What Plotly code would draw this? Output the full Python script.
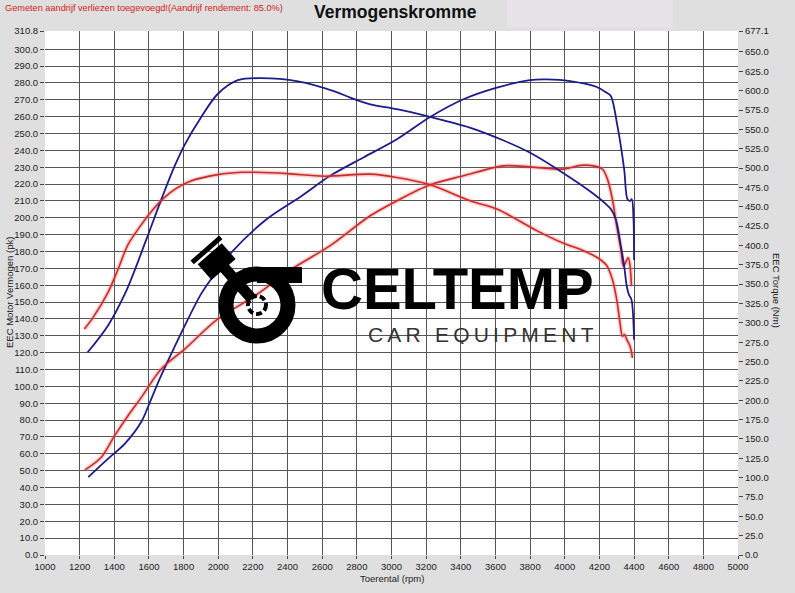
import plotly.graph_objects as go

# ---- data ----
# blue run: power (pk, left axis) and torque (Nm, right axis)
blue_pk_rpm = [1250, 1363, 1460, 1556, 1607, 1660, 1700, 1797, 1896, 1954, 2075, 2277,
               2479, 2646, 2838, 3031, 3223, 3415, 3608, 3800, 3896, 4031, 4185, 4242,
               4266, 4304, 4343, 4362, 4377, 4387, 4397, 4400]
blue_pk = [46.2, 57.0, 65.9, 79.0, 91.0, 104.0, 113.0, 134.0, 154.0, 163.0, 179.3, 199.0,
           212.8, 224.9, 235.8, 246.6, 259.8, 270.3, 277.2, 281.7, 282.1, 281.1, 277.6, 274.2,
           272.3, 254.5, 228.8, 211.0, 210.0, 211.0, 199.0, 175.0]

blue_nm_rpm = [1245, 1363, 1469, 1585, 1671, 1748, 1806, 1902, 1998, 2113, 2248, 2460,
               2671, 2762, 2877, 3031, 3223, 3452, 3644, 3798, 3986, 4142, 4238, 4266,
               4295, 4324, 4343, 4358, 4370, 4385, 4400]
blue_nm = [261.6, 296.3, 341.2, 407.8, 459.2, 502.4, 530.0, 566.0, 596.0, 613.5, 616.1, 612.0,
           599.1, 591.0, 582.3, 576.0, 566.0, 552.3, 535.9, 520.0, 494.3, 470.6, 453.4, 447.0,
           433.5, 399.1, 373.2, 347.3, 336.6, 330.0, 278.2]

# red run
red_pk_rpm = [1231, 1325, 1402, 1479, 1556, 1671, 1806, 1998, 2210, 2421, 2646, 2877,
              3031, 3223, 3415, 3646, 3800, 3993, 4092, 4166, 4218, 4247, 4275, 4300,
              4324, 4339, 4366, 4377, 4385]
red_pk = [50.5, 58.0, 70.8, 82.6, 93.5, 110.3, 122.1, 140.0, 153.6, 169.4, 183.5, 201.2,
          210.1, 219.6, 224.9, 230.8, 230.2, 228.9, 231.1, 230.8, 228.8, 222.8, 211.0, 195.0,
          181.2, 171.3, 176.3, 171.3, 159.4]

red_nm_rpm = [1227, 1277, 1363, 1421, 1479, 1550, 1607, 1690, 1760, 1838, 1998, 2133,
              2210, 2402, 2613, 2877, 3031, 3223, 3454, 3608, 3838, 3993, 4092, 4185,
              4242, 4275, 4300, 4319, 4333, 4345, 4358, 4377, 4391]
red_nm = [291.9, 306.7, 339.0, 369.0, 401.0, 425.0, 442.0, 462.0, 474.0, 483.0, 491.5, 494.5,
          494.5, 492.8, 489.5, 492.1, 487.8, 478.4, 457.7, 447.0, 419.2, 402.8, 394.8, 384.7,
          374.1, 356.0, 330.0, 300.0, 282.6, 284.8, 278.2, 269.7, 254.7]

pk_ticks = [i * 10.0 for i in range(31)] + [310.8]
nm_ticks = [i * 25.0 for i in range(27)] + [677.1]
rpm_ticks = list(range(1000, 5001, 200))

BLUE = "#1c1c8a"
RED = "#cc2a2a"
W, H = 795, 593
L, R, T, B = 45, 57, 31, 38
SMOOTH = 0.9


def px(x, y):
    # pixel -> paper coords, only used for the logo / header decoration
    return (x - L) / (W - L - R), (H - B - y) / (H - T - B)


fig = go.Figure()

# red halo underneath the red curves
for xs, ys, ax in [(red_pk_rpm, red_pk, "y"), (red_nm_rpm, red_nm, "y2")]:
    fig.add_trace(go.Scatter(x=xs, y=ys, yaxis=ax, mode="lines",
                             line=dict(color="rgba(235,120,120,0.35)", width=4.5,
                                       shape="spline", smoothing=SMOOTH),
                             hoverinfo="skip", showlegend=False))

fig.add_trace(go.Scatter(x=blue_pk_rpm, y=blue_pk, mode="lines", name="Vermogen 1",
                         line=dict(color=BLUE, width=1.8, shape="spline", smoothing=SMOOTH)))
fig.add_trace(go.Scatter(x=blue_nm_rpm, y=blue_nm, yaxis="y2", mode="lines", name="Koppel 1",
                         line=dict(color=BLUE, width=1.8, shape="spline", smoothing=SMOOTH)))
fig.add_trace(go.Scatter(x=red_pk_rpm, y=red_pk, mode="lines", name="Vermogen 2",
                         line=dict(color=RED, width=1.6, shape="spline", smoothing=SMOOTH)))
fig.add_trace(go.Scatter(x=red_nm_rpm, y=red_nm, yaxis="y2", mode="lines", name="Koppel 2",
                         line=dict(color=RED, width=1.6, shape="spline", smoothing=SMOOTH)))

tickfont = dict(family="Liberation Sans, Arial, sans-serif", size=9.5, color="#222")

fig.update_layout(
    width=W, height=H,
    margin=dict(l=L, r=R, t=T, b=B, autoexpand=False),
    paper_bgcolor="#dfdfdf",
    plot_bgcolor="white",
    showlegend=False,
    font=dict(family="Liberation Sans, Arial, sans-serif", size=10, color="#222"),
    xaxis=dict(range=[1000, 5000], tickvals=rpm_ticks, ticks="outside", ticklen=3,
               tickcolor="#444", showgrid=True, gridcolor="#555", gridwidth=0.8,
               zeroline=False, showline=False, tickfont=tickfont, automargin=False),
    yaxis=dict(range=[0, 310.8], tickvals=pk_ticks, ticktext=[f"{v:.1f}" for v in pk_ticks],
               ticks="outside", ticklen=4, tickcolor="#444", showgrid=True,
               gridcolor="#555", gridwidth=0.8, zeroline=False, showline=False,
               tickfont=tickfont, automargin=False),
    yaxis2=dict(range=[0, 677.1], overlaying="y", side="right", tickvals=nm_ticks,
                ticktext=[f"{v:.1f}" for v in nm_ticks], ticks="outside", ticklen=4,
                tickcolor="#444", showgrid=False, zeroline=False, showline=False,
                tickfont=tickfont, automargin=False),
)


def note(x, y, text, size, color="#222", angle=0, anchor="center", family=None, h=None):
    ax_, ay_ = px(x, y)
    f = dict(size=size, color=color)
    if family:
        f["family"] = family
    fig.add_annotation(xref="paper", yref="paper", x=ax_, y=ay_, xanchor=anchor,
                       yanchor="middle", text=text, textangle=angle, showarrow=False,
                       font=f, height=h)


# header: lighter box, warning text and title
bx0, by0 = px(507, 27)
bx1, by1 = px(673, 0)
fig.add_shape(type="rect", xref="paper", yref="paper", x0=bx0, y0=by0, x1=bx1, y1=by1,
              fillcolor="#e6e4e7", line_width=0, layer="below")
note(3, 8, "Gemeten aandrijf verliezen toegevoegd!(Aandrijf rendement: 85.0%)", 9.2,
     color="#d42020", anchor="left")
note(396, 12, "<b>Vermogenskromme</b>", 17.5, color="#111")

# axis titles
note(392, 578, "Toerental (rpm)", 9.5)
note(9, 293, "EEC Motor Vermogen (pk)", 9.5, angle=-90)
note(777, 290, "EEC Torque (Nm)", 9.5, angle=90)

# ---- CELTEMP watermark ----
cx, cy, rr = 257, 305, 31
x0, y0 = px(cx - rr, cy + rr)
x1, y1 = px(cx + rr, cy - rr)
fig.add_shape(type="circle", xref="paper", yref="paper", x0=x0, y0=y0, x1=x1, y1=y1,
              line=dict(color="black", width=15))
x0, y0 = px(257, 283)
x1, y1 = px(302, 267)
fig.add_shape(type="rect", xref="paper", yref="paper", x0=x0, y0=y0, x1=x1, y1=y1,
              fillcolor="black", line_width=0)

# connecting rod
rx0, ry0 = px(220, 263)
rx1, ry1 = px(252, 299)
fig.add_shape(type="line", xref="paper", yref="paper", x0=rx0, y0=ry0, x1=rx1, y1=ry1,
              line=dict(color="black", width=11))
x0, y0 = px(cx - 9, cy + 9)
x1, y1 = px(cx + 9, cy - 9)
fig.add_shape(type="circle", xref="paper", yref="paper", x0=x0, y0=y0, x1=x1, y1=y1,
              line=dict(color="black", width=4, dash="6px,3px"))

# piston, tilted along the rod
ux, uy = 35 / 53.15, 40 / 53.15
vx, vy = -uy, ux
pcx, pcy = 217, 262
corners = []
for a, b in [(-16, -11), (16, -11), (16, 10), (-16, 10)]:
    corners.append(px(pcx + a * vx + b * ux, pcy + a * vy + b * uy))
path = "M " + " L ".join(f"{x:.4f},{y:.4f}" for x, y in corners) + " Z"
fig.add_shape(type="path", xref="paper", yref="paper", path=path,
              fillcolor="black", line_width=0)
c0 = px(pcx - 19 * vx - 16 * ux, pcy - 19 * vy - 16 * uy)
c1 = px(pcx + 19 * vx - 16 * ux, pcy + 19 * vy - 16 * uy)
fig.add_shape(type="line", xref="paper", yref="paper", x0=c0[0], y0=c0[1], x1=c1[0], y1=c1[1],
              line=dict(color="black", width=5))

note(457, 288, "<b>CELTEMP</b>", 58, color="black", family="Liberation Sans, Arial", h=48)
note(481, 334, "\u2009".join("CAR EQUIPMENT"), 21, color="#333",
     family="Liberation Sans, Arial", h=20)

fig.write_html("out.html", config={"displayModeBar": False},
               post_script="document.body.style.margin='0';")
